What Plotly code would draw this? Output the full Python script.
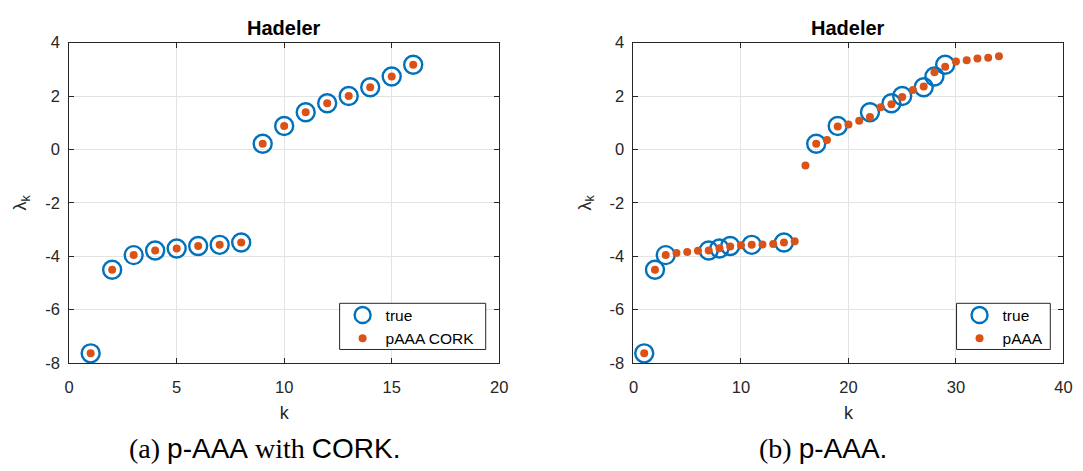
import plotly.graph_objects as go

# Hadeler eigenvalues: exact ones and the two p-AAA approximations
k_true_a = list(range(1, 17))
lam_true = [-7.64, -4.51, -3.96, -3.79, -3.71, -3.62, -3.575, -3.49,
            0.21, 0.88, 1.39, 1.73, 2.00, 2.33, 2.73, 3.17]

k_cork = list(range(1, 17))
lam_cork = [-7.64, -4.51, -3.96, -3.79, -3.71, -3.62, -3.575, -3.49,
            0.21, 0.88, 1.39, 1.73, 2.00, 2.33, 2.73, 3.17]

k_true_b = [1, 2, 3, 7, 8, 9, 11, 14, 17, 19, 22, 24, 25, 27, 28, 29]

k_paaa = list(range(1, 35))
lam_paaa = [-7.64, -4.51, -3.96, -3.88, -3.84, -3.80, -3.79, -3.70, -3.64, -3.59,
            -3.575, -3.56, -3.54, -3.49, -3.44, -0.605, 0.21, 0.357, 0.86, 0.93,
            1.07, 1.21, 1.58, 1.69, 1.96, 2.23, 2.36, 2.89, 3.10, 3.29,
            3.34, 3.41, 3.43, 3.49]

y_ticks = [-8, -6, -4, -2, 0, 2, 4]
y_ticktext = ["-8", "-6", "-4", "-2", "0", "2", "4"]
x_ticks_a = [0, 5, 10, 15, 20]
x_ticks_b = [0, 10, 20, 30, 40]

BLUE = "#0072BD"
ORANGE = "#D95319"
INK = "#262626"
GRID = "#e3e3e3"
SANS = "Liberation Sans, Arial, sans-serif"
SERIF = "Liberation Serif"

W, H = 1083, 471
dom_a = [65 / W, 500.7 / W]
dom_b = [636.7 / W, 1072.3 / W]
dom_y = [1 - 368 / H, 1 - 35 / H]

fig = go.Figure()

circle = dict(symbol="circle-open", size=18, color=BLUE, line=dict(width=2.4, color=BLUE))
dot = dict(symbol="circle", size=8, color=ORANGE)

fig.add_trace(go.Scatter(x=k_true_a, y=lam_true, mode="markers", marker=circle,
                         name="true", xaxis="x", yaxis="y", legend="legend"))
fig.add_trace(go.Scatter(x=k_cork, y=lam_cork, mode="markers", marker=dot,
                         name="pAAA CORK", xaxis="x", yaxis="y", legend="legend"))
fig.add_trace(go.Scatter(x=k_true_b, y=lam_true, mode="markers", marker=circle,
                         name="true", xaxis="x2", yaxis="y2", legend="legend2"))
fig.add_trace(go.Scatter(x=k_paaa, y=lam_paaa, mode="markers", marker=dot,
                         name="pAAA", xaxis="x2", yaxis="y2", legend="legend2"))

common = dict(showgrid=True, gridcolor=GRID, gridwidth=1, zeroline=False,
              showline=True, linecolor=INK, linewidth=1, mirror="ticks",
              ticks="inside", ticklen=5, tickcolor=INK, tickwidth=1,
              tickfont=dict(family=SANS, size=16.5, color=INK))

xt = dict(text="k", font=dict(family=SANS, size=18, color=INK), standoff=11)
yt = dict(text="λ<sub>k</sub>", font=dict(family=SANS, size=18, color=INK), standoff=13)

# legend frames (left, right, top, bottom in pixels)
legend_boxes = [(339, 487, 306, 354), (964, 1059, 306, 354)]

legend_style = dict(xanchor="left", yanchor="top", bgcolor="rgba(0,0,0,0)",
                    borderwidth=0, itemwidth=36, tracegroupgap=0,
                    font=dict(family=SANS, size=15.5, color="black"))

fig.update_layout(
    width=W, height=H,
    margin=dict(l=0, r=0, t=0, b=0),
    paper_bgcolor="white", plot_bgcolor="white",
    xaxis=dict(domain=dom_a, range=[0, 20], tickvals=x_ticks_a, anchor="y",
               title=xt, ticklabelstandoff=9, **common),
    yaxis=dict(domain=dom_y, range=[-8, 4], tickvals=y_ticks, ticktext=y_ticktext,
               anchor="x", title=yt, ticklabelstandoff=5, **common),
    xaxis2=dict(domain=dom_b, range=[0, 40], tickvals=x_ticks_b, anchor="y2",
                title=xt, ticklabelstandoff=9, **common),
    yaxis2=dict(domain=dom_y, range=[-8, 4], tickvals=y_ticks, ticktext=y_ticktext,
                anchor="x2", title=yt, ticklabelstandoff=5, **common),
    legend=dict(x=legend_boxes[0][0] / W, y=1 - (legend_boxes[0][2] - 5) / H, **legend_style),
    legend2=dict(x=legend_boxes[1][0] / W, y=1 - (legend_boxes[1][2] - 5) / H, **legend_style),
    showlegend=True,
)

for x0, x1, y0, y1 in legend_boxes:
    fig.add_shape(type="rect", xref="paper", yref="paper", layer="above",
                  x0=x0 / W, x1=x1 / W, y0=1 - y1 / H, y1=1 - y0 / H,
                  fillcolor="white", line=dict(color=INK, width=1))

title_y = 1 - 20 / H
for dom in (dom_a, dom_b):
    fig.add_annotation(text="<b>Hadeler</b>", x=(dom[0] + dom[1]) / 2, y=title_y,
                       xref="paper", yref="paper", showarrow=False,
                       xanchor="center", yanchor="middle",
                       font=dict(family=SANS, size=20, color="black"))

cap_y = 1 - 457 / H
captions = [
    (263 / W, f'<span style="font-family:{SERIF}">(a) </span>p-AAA'
              f'<span style="font-family:{SERIF}"> with </span>CORK.'),
    (829 / W, f'<span style="font-family:{SERIF}">(b) </span>p-AAA.'),
]
for cx, txt in captions:
    fig.add_annotation(text=txt, x=cx, y=cap_y, xref="paper", yref="paper",
                       showarrow=False, xanchor="center", yanchor="middle",
                       font=dict(family=SANS, size=28, color="black"))

fig.write_html("out.html")
